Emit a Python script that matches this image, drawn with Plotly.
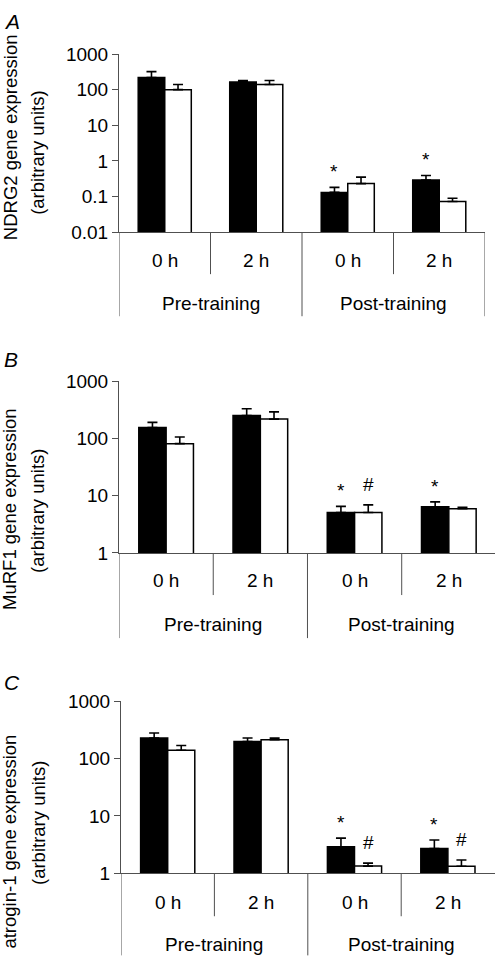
import math
import plotly.graph_objects as go

# ---------------- data ----------------
groups = ["Pre-training", "Pre-training", "Post-training", "Post-training"]
times = ["0 h", "2 h", "0 h", "2 h"]
outer_labels = ["Pre-training", "Post-training"]

# Panel A: NDRG2
ndrg2_black = [220, 165, 0.13, 0.29]
ndrg2_black_err = [100, 15, 0.05, 0.10]
ndrg2_white = [100, 140, 0.23, 0.072]
ndrg2_white_err = [40, 40, 0.12, 0.017]
ndrg2_sig_black = ["", "", "*", "*"]
ndrg2_sig_white = ["", "", "", ""]

# Panel B: MuRF1
murf1_black = [155, 250, 5.1, 6.4]
murf1_black_err = [35, 80, 1.4, 1.4]
murf1_white = [81, 217, 5.1, 5.9]
murf1_white_err = [25, 73, 1.8, 0.4]
murf1_sig_black = ["", "", "*", "*"]
murf1_sig_white = ["", "", "#", ""]

# Panel C: atrogin-1
atrogin_black = [230, 200, 2.9, 2.7]
atrogin_black_err = [50, 30, 1.2, 1.1]
atrogin_white = [140, 215, 1.33, 1.32]
atrogin_white_err = [30, 15, 0.17, 0.38]
atrogin_sig_black = ["", "", "*", "*"]
atrogin_sig_white = ["", "", "#", "#"]

ticks_a = [0.01, 0.1, 1, 10, 100, 1000]
ticks_bc = [1, 10, 100, 1000]

# ---------------- layout constants (pixels) ----------------
W, H = 495, 970
FONT = "Liberation Sans, Arial, sans-serif"
AX = "#505050"
BARGAP = 0.42

panels = [
    dict(letter="A", black=ndrg2_black, black_err=ndrg2_black_err,
         white=ndrg2_white, white_err=ndrg2_white_err,
         sig_black=ndrg2_sig_black, sig_white=ndrg2_sig_white,
         ticks=ticks_a, yrange=[-2, 3],
         x0=119, x1=485, xr=3.5, ytop=45, ybot=227, end_line=True,
         inner=43, outer=86, lab_in=28, lab_out=71,
         t1="NDRG2 gene expression", t1y=130, t2y=146, lety=12),
    dict(letter="B", black=murf1_black, black_err=murf1_black_err,
         white=murf1_white, white_err=murf1_white_err,
         sig_black=murf1_sig_black, sig_white=murf1_sig_white,
         ticks=ticks_bc, yrange=[0, 3],
         x0=119, x1=495, xr=3.49, ytop=379.3, ybot=555, end_line=False,
         inner=43, outer=87, lab_in=28, lab_out=72,
         t1="MuRF1 gene expression", t1y=510, t2y=512, lety=357),
    dict(letter="C", black=atrogin_black, black_err=atrogin_black_err,
         white=atrogin_white, white_err=atrogin_white_err,
         sig_black=atrogin_sig_black, sig_white=atrogin_sig_white,
         ticks=ticks_bc, yrange=[0, 3],
         x0=121, x1=494.6, xr=3.5, ytop=706.7, ybot=882.3, end_line=False,
         inner=44, outer=84, lab_in=29, lab_out=71,
         t1="atrogin-1 gene expression", t1y=850, t2y=831, lety=687),
]

xcats = [f"{g} {t}" for g, t in zip(groups, times)]

fig = go.Figure()
annotations = []
shapes = []
layout_axes = {}

def py(p):
    return 1 - p / H

def ticklabel(v):
    return f"{v:g}"

for k, p in enumerate(panels):
    sfx = "" if k == 0 else str(k + 1)
    xa, ya = "x" + sfx, "y" + sfx
    err_style = dict(type="data", symmetric=False, color="black",
                     thickness=1.6, width=5)
    fig.add_trace(go.Bar(
        x=xcats, y=p["black"], name="black", showlegend=False,
        marker=dict(color="black", line=dict(color="black", width=1.5)),
        error_y=dict(array=p["black_err"], arrayminus=[0] * 4, **err_style),
        xaxis=xa, yaxis=ya))
    fig.add_trace(go.Bar(
        x=xcats, y=p["white"], name="white", showlegend=False,
        marker=dict(color="white", line=dict(color="black", width=1.5)),
        error_y=dict(array=p["white_err"], arrayminus=[0] * 4, **err_style),
        xaxis=xa, yaxis=ya))

    layout_axes["xaxis" + sfx] = dict(
        domain=[p["x0"] / W, p["x1"] / W], anchor=ya, type="category",
        range=[-0.5, p["xr"]], showline=True, linecolor=AX, linewidth=1,
        showticklabels=False, ticks="", showgrid=False, zeroline=False,
        fixedrange=True)
    layout_axes["yaxis" + sfx] = dict(
        domain=[py(p["ybot"]), py(p["ytop"])], anchor=xa, type="log",
        range=p["yrange"], tickvals=p["ticks"],
        ticktext=[ticklabel(v) for v in p["ticks"]],
        ticks="outside", ticklen=6, tickwidth=1, tickcolor=AX,
        showline=True, linecolor=AX, linewidth=1, showgrid=False,
        zeroline=False, tickfont=dict(family=FONT, size=19, color="black"),
        fixedrange=True)

    yb = py(p["ybot"])
    # frame lines below the category axis
    shapes.append(dict(type="line", xref=xa, yref="paper", x0=-0.5, x1=-0.5,
                       y0=yb, y1=yb - p["outer"] / H, line=dict(color=AX, width=1)))
    for b in (0.5, 2.5):
        shapes.append(dict(type="line", xref=xa, yref="paper", x0=b, x1=b,
                           y0=yb, y1=yb - p["inner"] / H, line=dict(color=AX, width=1)))
    shapes.append(dict(type="line", xref=xa, yref="paper", x0=1.5, x1=1.5,
                       y0=yb, y1=yb - p["outer"] / H, line=dict(color=AX, width=1)))
    if p["end_line"]:
        shapes.append(dict(type="line", xref=xa, yref="paper", x0=3.5, x1=3.5,
                           y0=yb, y1=yb - p["outer"] / H, line=dict(color=AX, width=1)))

    # category labels
    for i, t in enumerate(times):
        annotations.append(dict(text=t, xref=xa, yref="paper", x=i, y=yb,
                                yshift=-p["lab_in"], yanchor="middle", xanchor="center",
                                showarrow=False, font=dict(family=FONT, size=19, color="black")))
    for j, g in enumerate(outer_labels):
        annotations.append(dict(text=g, xref=xa, yref="paper", x=2 * j + 0.5, y=yb,
                                yshift=-p["lab_out"], yanchor="middle", xanchor="center",
                                showarrow=False, font=dict(family=FONT, size=19, color="black")))

    # significance markers
    off = (1 - BARGAP) / 4
    for i in range(4):
        for sig, vals, errs, dx in ((p["sig_black"], p["black"], p["black_err"], -off),
                                    (p["sig_white"], p["white"], p["white_err"], off)):
            s = sig[i]
            if not s:
                continue
            annotations.append(dict(text=s, xref=xa, yref=ya, x=i + dx,
                                    y=math.log10(vals[i] + errs[i]),
                                    yanchor="bottom", xanchor="center",
                                    yshift=3 if s == "*" else 8, showarrow=False,
                                    font=dict(family=FONT, size=19, color="black")))

    # y-axis title (two lines) and panel letter
    annotations.append(dict(text=p["t1"], xref="paper", yref="paper", x=10 / W, y=py(p["t1y"]),
                            textangle=-90, xanchor="center", yanchor="middle", showarrow=False,
                            font=dict(family=FONT, size=18.5, color="black")))
    annotations.append(dict(text="(arbitrary units)", xref="paper", yref="paper", x=38 / W,
                            y=py(p["t2y"]), textangle=-90, xanchor="center", yanchor="middle",
                            showarrow=False, font=dict(family=FONT, size=18.5, color="black")))
    annotations.append(dict(text="<i>" + p["letter"] + "</i>", xref="paper", yref="paper",
                            x=2 / W, y=py(p["lety"]), xanchor="left", yanchor="middle",
                            showarrow=False, font=dict(family=FONT, size=21, color="black")))

fig.update_layout(
    width=W, height=H, margin=dict(l=0, r=0, t=0, b=0),
    paper_bgcolor="white", plot_bgcolor="white",
    barmode="group", bargap=BARGAP, bargroupgap=0,
    showlegend=False, annotations=annotations, shapes=shapes,
    font=dict(family=FONT, color="black"),
    **layout_axes)

fig.write_html("out.html", config={"displayModeBar": False},
               post_script="document.body.style.margin='0';")
